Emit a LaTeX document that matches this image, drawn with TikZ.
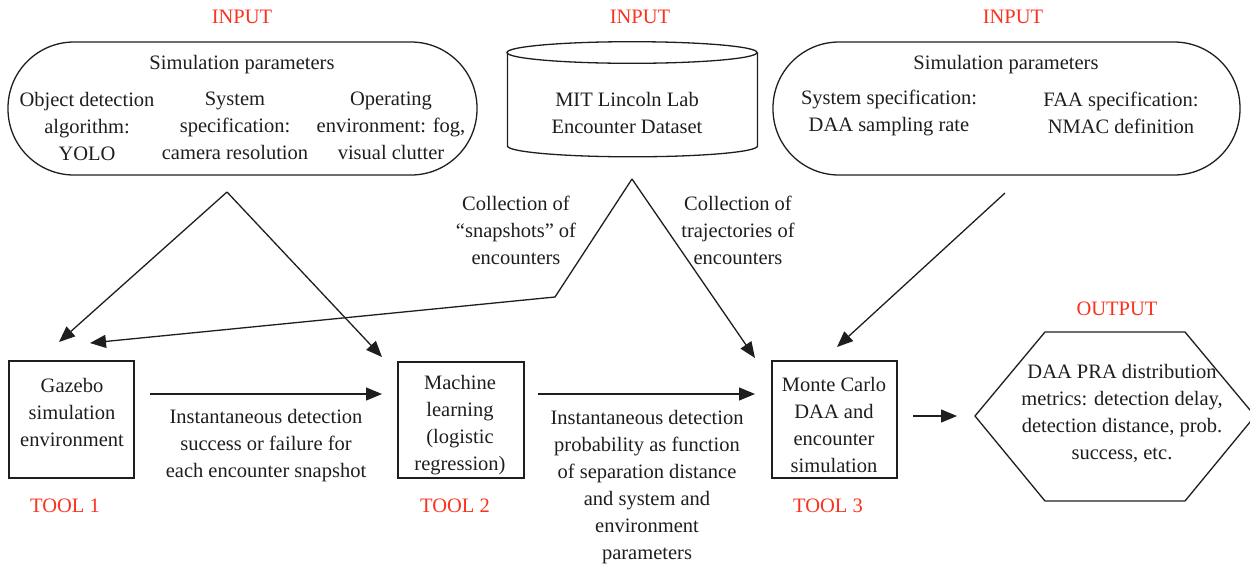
\documentclass[tikz,border=0pt]{standalone}
\usepackage{fontspec}
\setmainfont{Liberation Serif}
\usetikzlibrary{arrows.meta}
\definecolor{lblred}{RGB}{250,50,30}
\definecolor{ink}{RGB}{30,30,30}
\begin{document}
\begin{tikzpicture}[x=0.5pt,y=-0.5pt,
  every node/.style={font=\fontsize{10.25pt}{13.5pt}\selectfont, inner sep=0pt, text=ink},
  txt/.style={align=center},
  lbl/.style={text=lblred},
  ln/.style={draw=ink, line width=0.65pt},
  arr/.style={ln, -{Triangle[length=8pt,width=6.5pt]}},
  box/.style={ln, minimum width=62.5pt, minimum height=58.5pt},
  stad/.style={ln, rounded corners=33pt, minimum height=66.5pt},
]
\useasboundingbox (0,0) rectangle (1250,569);

% INPUT labels
\node[lbl] (inl1) at (242,17) {INPUT};
\node[lbl] (inl2) at (640,17) {INPUT};
\node[lbl] (inl3) at (1013,17) {INPUT};

% left stadium
\node[stad, minimum width=234.5pt] (in1) at (242.5,108.5) {};
\node[txt] (in1t) at (242,65) {Simulation parameters};
\node[txt] (in1a) at (87,126) {Object detection\\algorithm:\\YOLO};
\node[txt] (in1b) at (235,126) {System\\specification:\\camera resolution};
\node[txt] (in1c) at (391,126) {Operating\\environment: fog,\\visual clutter};

% cylinder
\draw[ln] (632,52.5) ellipse [x radius=62.5pt, y radius=5.4pt];
\draw[ln] (507.5,52.5) -- (507.5,146) arc[start angle=180,end angle=360,x radius=62.5pt,y radius=5.4pt] -- (757.5,52.5);
\node[txt] (db) at (627,113) {MIT Lincoln Lab\\Encounter Dataset};

% right stadium
\node[stad, minimum width=233.5pt] (in3) at (1006.5,108.5) {};
\node[txt] (in3t) at (1006,65) {Simulation parameters};
\node[txt] (in3a) at (889,113) {System specification:\\DAA sampling rate};
\node[txt] (in3b) at (1121,113) {FAA specification:\\NMAC definition};

% tool boxes
\node[box] (box1) at (71.5,419.5) {};
\node[txt] (box1t) at (72,412) {Gazebo\\simulation\\environment};
\node[lbl] (tool1) at (65,506) {TOOL 1};

\node[box, minimum width=63pt, minimum height=58pt] (box2) at (461,420) {};
\node[txt] (box2t) at (460,425) {Machine\\learning\\(logistic\\regression)};
\node[lbl] (tool2) at (455,506) {TOOL 2};

\node[box] (box3) at (834.5,419.5) {};
\node[txt] (box3t) at (834,425) {Monte Carlo\\DAA and\\encounter\\simulation};
\node[lbl] (tool3) at (828,506) {TOOL 3};

% hexagon
\draw[ln] (975,416) -- (1045,332) -- (1185,332) -- (1255,416) -- (1185,501) -- (1045,501) -- cycle;
\node[txt] (outt) at (1122,413) {DAA PRA distribution\\metrics: detection delay,\\detection distance, prob.\\success, etc.};
\node[lbl] (outl) at (1117,309) {OUTPUT};

% arrow labels
\node[txt] (lab1) at (516,230) {Collection of\\``snapshots'' of\\encounters};
\node[txt] (lab2) at (738,230) {Collection of\\trajectories of\\encounters};
\node[txt] (lab3) at (266,446) {Instantaneous detection\\success or failure for\\each encounter snapshot};
\node[txt] (lab4) at (647,487) {Instantaneous detection\\probability as function\\of separation distance\\and system and\\environment\\parameters};

% connector coordinates
\coordinate (apL) at (227,192);
\coordinate (tG1) at (59,342);
\coordinate (tM1) at (382,357);
\coordinate (apC) at (632,179);
\coordinate (bend) at (555,297);
\coordinate (tG2) at (90,343);
\coordinate (tMC1) at (755,358);
\coordinate (apR) at (1005,193);
\coordinate (tMC2) at (837,347);
\coordinate (h1s) at (150,394);
\coordinate (h1e) at (382,394);
\coordinate (h2s) at (538,394);
\coordinate (h2e) at (755,394);
\coordinate (h3s) at (913,416);
\coordinate (h3e) at (957,416);

\draw[arr] (apL) -- (tG1);
\draw[arr] (apL) -- (tM1);
\draw[arr] (apC) -- (bend) -- (tG2);
\draw[arr] (apC) -- (tMC1);
\draw[arr] (apR) -- (tMC2);
\draw[arr] (h1s) -- (h1e);
\draw[arr] (h2s) -- (h2e);
\draw[arr] (h3s) -- (h3e);
\end{tikzpicture}
\end{document}
